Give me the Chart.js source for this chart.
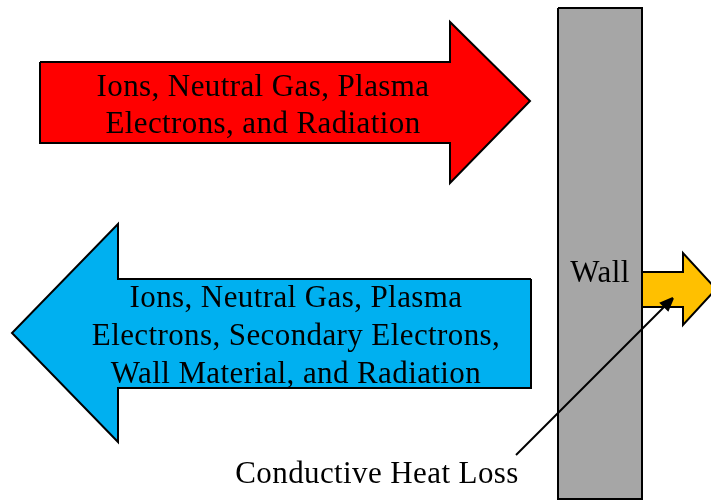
<!DOCTYPE html>
<html>
<head>
<meta charset="utf-8">
<script src="https://cdn.jsdelivr.net/npm/chart.js@4"></script>
<style>
    body { margin: 0; background: #ffffff; }
    #wrap { width: 711px; height: 503px; }
</style>
</head>
<body>
<div id="wrap"><canvas id="diagram" width="711" height="503"></canvas></div>
<script>
// Outline vertices of each shape (x in px-like units, y measured downward)
const redArrowX = [40, 450, 450, 530, 450, 450, 40, 40];
const redArrowY = [62, 62, 22, 101, 183, 143, 143, 62];
const blueArrowX = [531, 118, 118, 12, 118, 118, 531, 531];
const blueArrowY = [279, 279, 224, 333, 442, 388, 388, 279];
const wallX = [558, 642, 642, 558, 558];
const wallY = [8, 8, 499, 499, 8];
const heatArrowX = [642, 683, 683, 716, 683, 683, 642, 642];
const heatArrowY = [272, 272, 253, 289, 325, 307, 307, 272];
const leaderX = [516, 666];
const leaderY = [455, 305];
const leaderHeadX = [673, 668, 661, 673];
const leaderHeadY = [298, 310, 303, 298];

// Text
const redLines = ["Ions, Neutral Gas, Plasma", "Electrons, and Radiation"];
const blueLines = ["Ions, Neutral Gas, Plasma", "Electrons, Secondary Electrons,", "Wall Material, and Radiation"];
const wallLines = ["Wall"];
const heatLines = ["Conductive Heat Loss"];

const toPoints = (xs, ys) => xs.map((x, i) => ({ x: x, y: ys[i] }));

const shape = (label, xs, ys, fillColor, order) => ({
    label: label,
    data: toPoints(xs, ys),
    showLine: true,
    fill: "shape",
    backgroundColor: fillColor,
    borderColor: "#000000",
    borderWidth: 2,
    pointRadius: 0,
    tension: 0,
    order: order,
});

// text blocks: lines, center x, first baseline, line step
const textBlocks = [
    { lines: redLines, x: 263, y: 96, step: 37 },
    { lines: blueLines, x: 296, y: 307, step: 38 },
    { lines: wallLines, x: 600, y: 282, step: 0 },
    { lines: heatLines, x: 377, y: 483, step: 0 },
];

const textPlugin = {
    id: "diagramText",
    afterDatasetsDraw(chart) {
        const ctx = chart.ctx;
        const xs = chart.scales.x;
        const ys = chart.scales.y;
        ctx.save();
        ctx.fillStyle = "#000000";
        ctx.font = "31px 'Liberation Serif', 'Times New Roman', serif";
        ctx.letterSpacing = "0.4px";
        ctx.textAlign = "center";
        ctx.textBaseline = "alphabetic";
        textBlocks.forEach((b) => {
            b.lines.forEach((line, i) => {
                ctx.fillText(line, xs.getPixelForValue(b.x), ys.getPixelForValue(b.y + i * b.step));
            });
        });
        ctx.restore();
    },
};

const ctx = document.getElementById("diagram").getContext("2d");
new Chart(ctx, {
    type: "scatter",
    data: {
        datasets: [
            shape("Particles in", redArrowX, redArrowY, "#ff0000", 5),
            shape("Particles out", blueArrowX, blueArrowY, "#00b0f0", 5),
            shape("Heat loss", heatArrowX, heatArrowY, "#ffc000", 4),
            shape("Wall", wallX, wallY, "#a6a6a6", 3),
            {
                label: "Leader",
                data: toPoints(leaderX, leaderY),
                showLine: true,
                borderColor: "#000000",
                borderWidth: 2,
                pointRadius: 0,
                order: 1,
            },
            shape("Leader head", leaderHeadX, leaderHeadY, "#000000", 0),
        ],
    },
    options: {
        responsive: false,
        animation: false,
        layout: { padding: 0 },
        scales: {
            x: { type: "linear", min: 0, max: 711, display: false },
            y: { type: "linear", min: 0, max: 503, reverse: true, display: false },
        },
        plugins: {
            legend: { display: false },
            tooltip: { enabled: false },
        },
    },
    plugins: [textPlugin],
});
</script>
</body>
</html>
